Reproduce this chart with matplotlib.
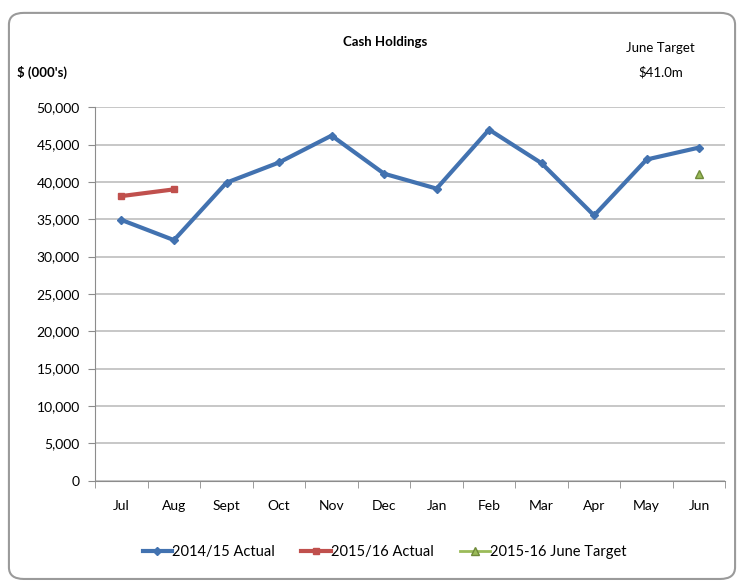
import numpy as np
import matplotlib.pyplot as plt
from matplotlib.patches import FancyBboxPatch
from matplotlib.ticker import FuncFormatter

months = ['Jul', 'Aug', 'Sept', 'Oct', 'Nov', 'Dec', 'Jan', 'Feb', 'Mar', 'Apr', 'May', 'Jun']
actual_1415 = [34900, 32200, 39900, 42600, 46200, 41100, 39100, 47000, 42500, 35500, 43000, 44600]
actual_1516 = [38100, 39000]
june_target = [41000]

plt.rcParams['font.family'] = ['Lato', 'DejaVu Sans']

fig = plt.figure(figsize=(7.44, 5.86), dpi=100)
border = FancyBboxPatch((0.012, 0.012), 0.976, 0.966, boxstyle='round,pad=0,rounding_size=0.02',
                        transform=fig.transFigure, fill=False, edgecolor='#9a9a9a', linewidth=1.5)
fig.patches.append(border)

ax = fig.add_axes([0.128, 0.18, 0.847, 0.637])
x = np.arange(len(months))

ax.plot(x, actual_1415, color='#4272b0', linewidth=3, marker='D', markersize=4,
        label='2014/15 Actual')
ax.plot(x[:len(actual_1516)], actual_1516, color='#c0504d', linewidth=3, marker='s', markersize=5,
        label='2015/16 Actual')
ax.plot(x[-1:], june_target, color='#9bbb59', linewidth=2, marker='^', markersize=6,
        markeredgecolor='#6f8a3a', label='2015-16 June Target')

ax.set_xlim(-0.45, 11.3)
ax.set_ylim(0, 50000)
ax.set_yticks(np.arange(0, 50001, 5000))
ax.yaxis.set_major_formatter(FuncFormatter(lambda v, p: '{:,.0f}'.format(v)))
ax.grid(axis='y', color='#bdbdbd', linewidth=1.2)
ax.set_axisbelow(True)

ax.set_xticks(x)
ax.set_xticklabels(months)
ax.set_xticks(np.arange(-0.5, 11.6, 1), minor=True)
ax.tick_params(axis='x', which='major', length=0, pad=14, labelsize=10)
ax.tick_params(axis='x', which='minor', length=5, color='#8c8c8c')
ax.tick_params(axis='y', length=5, color='#8c8c8c', labelsize=10, pad=6)

for s in ['top', 'right']:
    ax.spines[s].set_visible(False)
ax.spines['left'].set_color('#8c8c8c')
ax.spines['bottom'].set_color('#8c8c8c')
ax.spines['left'].set_bounds(0, 50000)

fig.text(0.518, 0.928, 'Cash Holdings', ha='center', va='center', fontsize=9.5, fontweight='bold')
fig.text(0.057, 0.877, "$ (000's)", ha='center', va='center', fontsize=9.5, fontweight='bold')
fig.text(0.888, 0.918, 'June Target', ha='center', va='center', fontsize=9.5)
fig.text(0.888, 0.877, '$41.0m', ha='center', va='center', fontsize=9.5)

fig.legend(loc='center', bbox_to_anchor=(0.517, 0.058), ncol=3, frameon=False, fontsize=10.5,
           handlelength=2.0, columnspacing=1.8, handletextpad=0.05, numpoints=1)

fig.savefig('out.png', dpi=100)
